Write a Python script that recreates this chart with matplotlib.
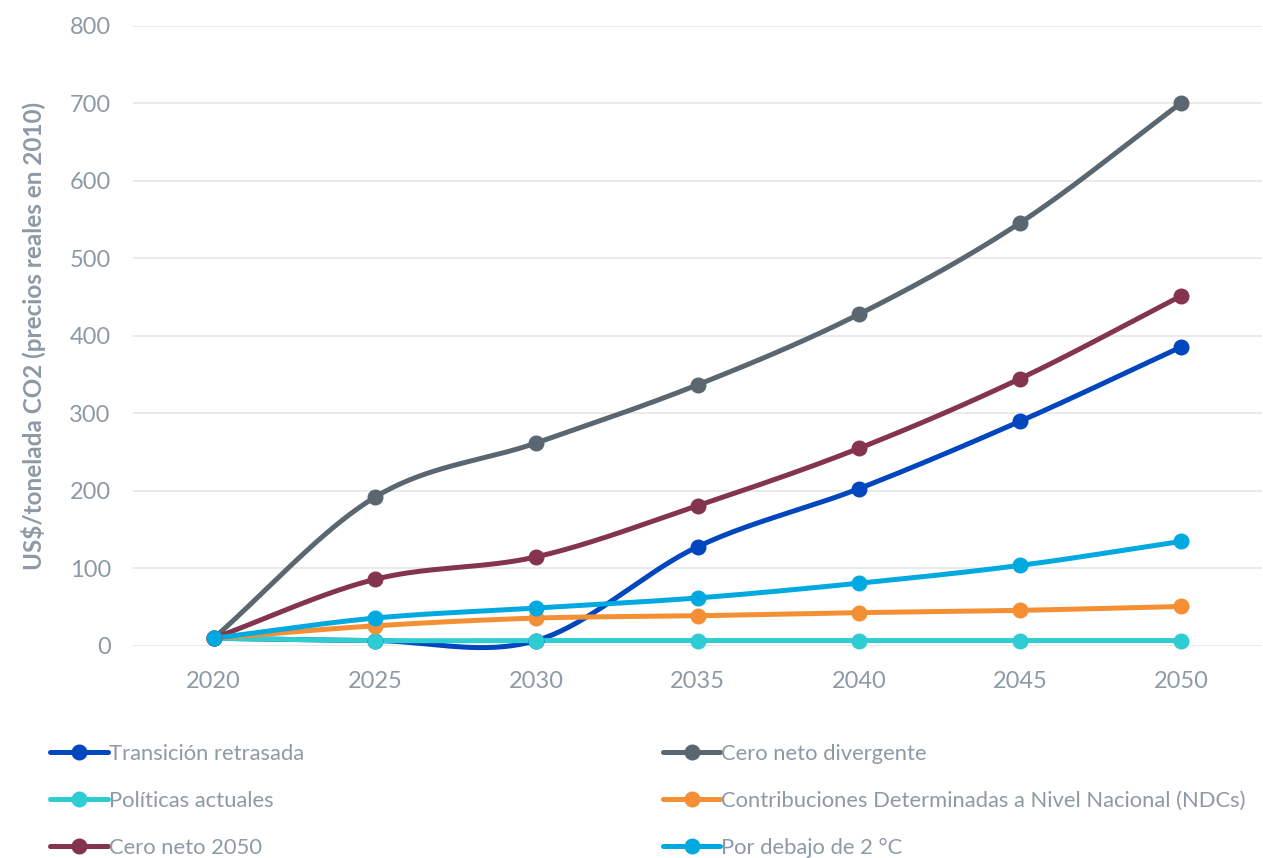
import matplotlib.pyplot as plt
from matplotlib.lines import Line2D
import numpy as np

plt.rcParams['font.family'] = ['Lato', 'DejaVu Sans']

years = [2020, 2025, 2030, 2035, 2040, 2045, 2050]

transicion_retrasada = [10, 7, 7, 128, 203, 290, 386]
cero_neto_divergente = [10, 192, 262, 337, 428, 546, 701]
politicas_actuales = [10, 7, 7, 7, 7, 7, 7]
ndcs = [10, 26, 36, 39, 43, 46, 51]
cero_neto_2050 = [10, 86, 115, 181, 255, 345, 452]
por_debajo_2c = [10, 36, 49, 62, 81, 104, 135]

series = [
    ('Transición retrasada', transicion_retrasada, '#0046BE'),
    ('Cero neto divergente', cero_neto_divergente, '#5B6770'),
    ('Políticas actuales', politicas_actuales, '#2ECCD3'),
    ('Contribuciones Determinadas a Nivel Nacional (NDCs)', ndcs, '#F58F33'),
    ('Cero neto 2050', cero_neto_2050, '#84344E'),
    ('Por debajo de 2 °C', por_debajo_2c, '#00A9E0'),
]

text_col = '#8D9AA6'


def smooth(x, y, n=40):
    # Catmull-Rom curve through the points
    x = np.asarray(x, float)
    y = np.asarray(y, float)
    px = np.concatenate([[2 * x[0] - x[1]], x, [2 * x[-1] - x[-2]]])
    py = np.concatenate([[2 * y[0] - y[1]], y, [2 * y[-1] - y[-2]]])
    xs, ys = [], []
    t = np.linspace(0, 1, n)
    for i in range(1, len(px) - 2):
        for p, out in ((px, xs), (py, ys)):
            p0, p1, p2, p3 = p[i - 1], p[i], p[i + 1], p[i + 2]
            out.extend(0.5 * ((2 * p1) + (-p0 + p2) * t
                              + (2 * p0 - 5 * p1 + 4 * p2 - p3) * t ** 2
                              + (-p0 + 3 * p1 - 3 * p2 + p3) * t ** 3))
    return np.array(xs), np.array(ys)


fig = plt.figure(figsize=(12.63, 8.58), dpi=100)
ax = fig.add_axes([0.1053, 0.2471, 0.894, 0.7226])

handles = []
for name, vals, col in series:
    sx, sy = smooth(years, vals)
    ax.plot(sx, sy, color=col, lw=3.6, solid_capstyle='round', clip_on=False, zorder=3)
    ax.plot(years, vals, 'o', color=col, ms=10.5, clip_on=False, zorder=4)
    handles.append(Line2D([], [], color=col, lw=3.6, marker='o', ms=10.5,
                          solid_capstyle='round', label=name))

ax.set_xlim(2017.5, 2052.5)
ax.set_ylim(0, 800)
ax.set_xticks(years)
ax.set_yticks(range(0, 801, 100))
ax.tick_params(length=0, labelsize=17, labelcolor=text_col)
ax.tick_params(axis='x', pad=18)
ax.tick_params(axis='y', pad=16)
ax.grid(axis='y', color='#E8E8E8', lw=1.3)
ax.set_axisbelow(True)
for s in ax.spines.values():
    s.set_visible(False)

ax.set_ylabel('US$/tonelada CO2 (precios reales en 2010)', fontsize=17.5,
              fontweight='bold', color=text_col, labelpad=17)

legend_kw = dict(frameon=False, fontsize=15.8, labelcolor=text_col, handlelength=2.6,
                 handletextpad=0.05, labelspacing=1.22, borderaxespad=0)
leg1 = fig.legend(handles=[handles[0], handles[2], handles[4]], loc='upper left',
                  bbox_to_anchor=(0.033, 0.143), **legend_kw)
leg2 = fig.legend(handles=[handles[1], handles[3], handles[5]], loc='upper left',
                  bbox_to_anchor=(0.518, 0.143), **legend_kw)

fig.savefig('out.png', dpi=100)
